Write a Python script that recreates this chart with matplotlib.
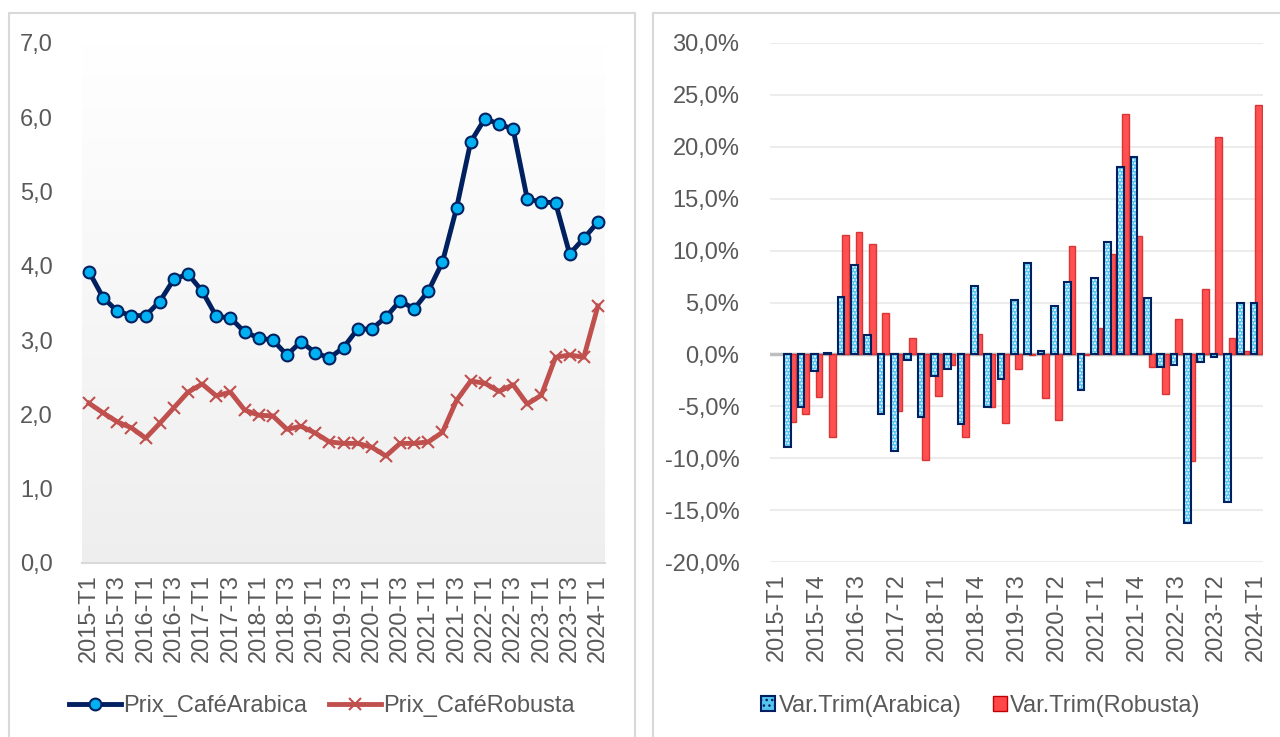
import numpy as np
import matplotlib.pyplot as plt
from matplotlib.patches import Rectangle, Patch
from matplotlib.ticker import FuncFormatter

plt.rcParams['font.family'] = ['Liberation Sans', 'DejaVu Sans']
plt.rcParams['font.size'] = 17
plt.rcParams['hatch.linewidth'] = 1.0

# trimestres 2015-T1 .. 2024-T1
periods = [f"{y}-T{q}" for y in range(2015, 2025) for q in range(1, 5)][:37]

prix_arabica = [3.92, 3.57, 3.39, 3.33, 3.33, 3.52, 3.82, 3.89, 3.66, 3.32,
                3.30, 3.11, 3.03, 3.00, 2.80, 2.98, 2.83, 2.76, 2.90, 3.15,
                3.15, 3.31, 3.53, 3.42, 3.66, 4.05, 4.78, 5.67, 5.98, 5.91,
                5.84, 4.90, 4.86, 4.85, 4.16, 4.37, 4.59]
prix_robusta = [2.15, 2.02, 1.90, 1.82, 1.68, 1.88, 2.09, 2.30, 2.41, 2.25,
                2.30, 2.06, 1.99, 1.98, 1.80, 1.84, 1.75, 1.63, 1.61, 1.61,
                1.56, 1.44, 1.61, 1.61, 1.63, 1.76, 2.19, 2.45, 2.42, 2.31,
                2.40, 2.14, 2.26, 2.77, 2.80, 2.77, 3.46]

# variations trimestrielles en %, pas de valeur pour 2015-T1
var_arabica = [np.nan, -8.9, -5.1, -1.6, 0.1, 5.5, 8.65, 1.83, -5.7, -9.35,
               -0.5, -6.0, -2.1, -1.45, -6.7, 6.55, -5.1, -2.4, 5.2, 8.8,
               0.3, 4.7, 7.0, -3.4, 7.35, 10.8, 18.1, 18.97, 5.4, -1.2,
               -1.0, -16.2, -0.75, -0.25, -14.2, 5.0, 5.0]
var_robusta = [np.nan, -6.5, -5.7, -4.1, -8.0, 11.5, 11.8, 10.6, 4.0, -5.5,
               1.6, -10.2, -4.05, -1.06, -8.0, 1.93, -5.1, -6.6, -1.4, -0.05,
               -4.2, -6.3, 10.45, -0.1, 2.5, 9.7, 23.2, 11.4, -1.2, -3.85,
               3.45, -10.3, 6.3, 20.95, 1.6, 0.3, 24.0]

txt = '#595959'
navy = '#002060'
cyan = '#55c6f2'
brick = '#c0504d'
red = '#ff4747'

fig = plt.figure(figsize=(12.8, 7.37), dpi=100)
W, H = 1280, 737

# cadres des deux graphiques
for x0, x1 in [(9, 635), (653, 1290)]:
    fig.patches.append(Rectangle((x0 / W, -0.05), (x1 - x0) / W, 1.05 - 13 / H,
                                 transform=fig.transFigure, fill=False,
                                 edgecolor='#d9d9d9', lw=1.5))

x = np.arange(len(periods))

# ---- graphique des prix ----
ax1 = fig.add_axes([82 / W, 1 - 563 / H, 523 / W, 520 / H])
t = np.linspace(0, 1, 256).reshape(-1, 1, 1)
grad = np.ones((256, 1, 3)) - t * 0.065
ax1.imshow(grad, extent=[-0.5, 36.5, 0, 7], aspect='auto', zorder=0,
           origin='upper', interpolation='bilinear')
ax1.plot(x, prix_arabica, color=navy, lw=3.5, marker='o', ms=8.5,
         mfc='#00b0f0', mec=navy, mew=1.5, label='Prix_CaféArabica', zorder=3)
ax1.plot(x, prix_robusta, color=brick, lw=3.5, marker='x', ms=8,
         mec=brick, mew=1.5, label='Prix_CaféRobusta', zorder=2)
ax1.set_xlim(-0.5, 36.5)
ax1.set_ylim(0, 7)
ax1.set_yticks(np.arange(0, 8, 1))
ax1.yaxis.set_major_formatter(FuncFormatter(lambda v, p: f"{v:.1f}".replace('.', ',')))
ax1.set_xticks(x[::2])
ax1.set_xticklabels(periods[::2], rotation=90)
for s in ['top', 'right', 'left']:
    ax1.spines[s].set_visible(False)
ax1.spines['bottom'].set_color('#d9d9d9')
ax1.spines['bottom'].set_linewidth(1.5)
ax1.tick_params(length=0, colors=txt, labelsize=17)
ax1.tick_params(axis='y', pad=21)
ax1.tick_params(axis='x', pad=8)
ax1.legend(loc='center', bbox_to_anchor=(322 / W, 1 - 706 / H),
           bbox_transform=fig.transFigure, ncol=2, frameon=False,
           handlelength=2.2, handletextpad=0.1, columnspacing=0.9,
           labelcolor=txt, fontsize=17)

# ---- graphique des variations ----
ax2 = fig.add_axes([770 / W, 1 - 562 / H, 493 / W, 519 / H])
bw = 0.5
ax2.bar(x + 0.17, var_robusta, bw, color=red, edgecolor='#d83030', lw=1,
        alpha=0.95, zorder=2)
ax2.bar(x - 0.17, var_arabica, bw, color=cyan, edgecolor='white', hatch='.....',
        lw=0, zorder=3)
ax2.bar(x - 0.17, var_arabica, bw, fill=False, edgecolor=navy, lw=1.5, zorder=4)
ax2.set_xlim(-0.5, 36.5)
ax2.set_ylim(-20, 30)
ax2.set_yticks(np.arange(-20, 31, 5))
ax2.yaxis.set_major_formatter(FuncFormatter(lambda v, p: f"{v:.1f}%".replace('.', ',')))
ax2.grid(axis='y', color='#ececec', lw=1.5, zorder=0)
ax2.axhline(0, color='#bfbfbf', lw=2.5, zorder=1)
ax2.set_axisbelow(True)
ax2.set_xticks(x[::3])
ax2.set_xticklabels(periods[::3], rotation=90)
for s in ax2.spines.values():
    s.set_visible(False)
ax2.tick_params(length=0, colors=txt, labelsize=17)
ax2.tick_params(axis='y', pad=22)
ax2.tick_params(axis='x', pad=8)
h_ara = Patch(facecolor=cyan, edgecolor=navy, hatch='...', lw=1.5)
h_rob = Patch(facecolor=red, edgecolor='#c00000', lw=1)
ax2.legend([h_ara, h_rob], ['Var.Trim(Arabica)', 'Var.Trim(Robusta)'],
           loc='center', bbox_to_anchor=(981 / W, 1 - 706 / H),
           bbox_transform=fig.transFigure, ncol=2, frameon=False,
           handlelength=0.6, handleheight=0.6, handletextpad=0.15,
           columnspacing=1.3, labelcolor=txt, fontsize=17)

fig.savefig('out.png', dpi=100)
